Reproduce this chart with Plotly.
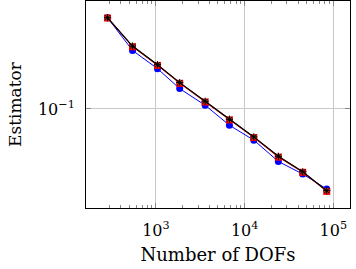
import plotly.graph_objects as go

dofs = [285, 545, 1042, 1854, 3590, 6740, 12700, 24000, 45200, 84300]
est_blue = [0.450, 0.2624, 0.1944, 0.1399, 0.1063, 0.0765, 0.0598, 0.0421, 0.0342, 0.0267]
est_red = [0.448, 0.279, 0.205, 0.1525, 0.1122, 0.0835, 0.0624, 0.0452, 0.0352, 0.0257]
est_brown = [0.450, 0.282, 0.2075, 0.1544, 0.1135, 0.0844, 0.0631, 0.0459, 0.0355, 0.0260]
est_black = [0.450, 0.282, 0.2075, 0.1544, 0.1135, 0.0844, 0.0631, 0.0459, 0.0355, 0.0260]

FONT = "DejaVu Serif"

fig = go.Figure()
fig.add_trace(go.Scatter(x=dofs, y=est_blue, mode="lines+markers",
                         line=dict(color="blue", width=1),
                         marker=dict(symbol="circle", size=7, color="blue")))
fig.add_trace(go.Scatter(x=dofs, y=est_red, mode="lines+markers",
                         line=dict(color="red", width=1),
                         marker=dict(symbol="square", size=7, color="red")))
fig.add_trace(go.Scatter(x=dofs, y=est_brown, mode="lines+markers",
                         line=dict(color="#8B4513", width=1),
                         marker=dict(symbol="circle", size=5, color="#a0522d")))
fig.add_trace(go.Scatter(x=dofs, y=est_black, mode="lines+markers",
                         line=dict(color="black", width=1.2),
                         marker=dict(symbol="asterisk-open", size=6,
                                     line=dict(color="black", width=1))))

fig.update_layout(
    width=356, height=269,
    margin=dict(l=86, r=6, t=1, b=61),
    showlegend=False,
    plot_bgcolor="white", paper_bgcolor="white",
    font=dict(family=FONT, size=15, color="black"),
)
fig.update_xaxes(
    type="log", range=[2.212, 5.188],
    tickvals=[1e3, 1e4, 1e5],
    ticktext=["10<sup>3</sup>", "10<sup>4</sup>", "10<sup>5</sup>"],
    tickfont=dict(size=16),
    showgrid=True, gridcolor="#c8c8c8", gridwidth=1,
    showline=True, linecolor="black", linewidth=1, mirror="allticks",
    ticks="inside", ticklen=5, tickcolor="#888",
    minor=dict(ticks="inside", ticklen=3, tickcolor="#888",
               tickvals=[300, 400, 500, 600, 700, 800, 900,
                         2000, 3000, 4000, 5000, 6000, 7000, 8000, 9000,
                         20000, 30000, 40000, 50000, 60000, 70000, 80000, 90000,
                         200000], showgrid=False),
    zeroline=False,
    ticklabelstandoff=8,
    title=dict(text="Number of DOFs", font=dict(size=18), standoff=9),
)
fig.update_yaxes(
    type="log", range=[-1.709, -0.227],
    tickvals=[0.1], ticktext=["10<sup>−1</sup>"],
    tickfont=dict(size=16),
    showgrid=True, gridcolor="#c8c8c8", gridwidth=1,
    showline=True, linecolor="black", linewidth=1, mirror="allticks",
    ticks="inside", ticklen=5, tickcolor="#888",
    zeroline=False,
    ticklabelstandoff=7,
    title=dict(text="Estimator", font=dict(size=17), standoff=11),
)

fig.write_html("out.html")
